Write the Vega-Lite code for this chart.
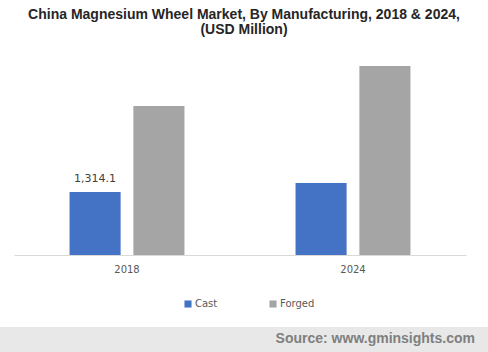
{
  "$schema": "https://vega.github.io/schema/vega-lite/v6.json",
  "autosize": {"type": "pad"},
  "padding": {"top": 8, "left": 0, "right": 0, "bottom": 0},
  "background": "white",
  "datasets": {
    "main": [
      {"year": "2018", "type": "Cast", "value": 1314.1, "label": "1,314.1"},
      {"year": "2018", "type": "Forged", "value": 3108, "label": null},
      {"year": "2024", "type": "Cast", "value": 1502, "label": null},
      {"year": "2024", "type": "Forged", "value": 3942, "label": null}
    ],
    "footer": [{"source": "Source: www.gminsights.com"}]
  },
  "center": true,
  "spacing": 18,
  "vconcat": [
    {
      "title": {
        "text": ["China Magnesium Wheel Market, By Manufacturing, 2018 & 2024,", "(USD Million)"],
        "anchor": "middle",
        "frame": "group",
        "font": "Liberation Sans",
        "fontSize": 14,
        "fontWeight": "bold",
        "color": "#262626",
        "lineHeight": 15,
        "baseline": "top",
        "offset": 18
      },
      "width": 460,
      "height": 200,
      "data": {"name": "main"},
      "encoding": {
        "x": {
          "field": "year", "type": "nominal",
          "scale": {"paddingInner": 0, "paddingOuter": 0, "range": [0, 452]},
          "axis": {
            "title": null, "labelAngle": 0, "ticks": false, "labelPadding": 9,
            "domainColor": "#d9d9d9", "labelFont": "DejaVu Sans", "labelFontSize": 10,
            "labelColor": "#595959", "grid": false
          }
        },
        "xOffset": {
          "field": "type", "type": "nominal",
          "scale": {"paddingInner": 0.2, "paddingOuter": 0.87}
        },
        "y": {
          "field": "value", "type": "quantitative",
          "scale": {"domain": [0, 4172], "nice": false},
          "axis": null
        }
      },
      "layer": [
        {
          "mark": {"type": "bar"},
          "encoding": {
            "color": {
              "field": "type", "type": "nominal",
              "scale": {"domain": ["Cast", "Forged"], "range": ["#4472c4", "#a5a5a5"]},
              "legend": {
                "title": null, "orient": "none", "legendX": 169, "legendY": 244,
                "direction": "horizontal",
                "symbolType": "square", "symbolSize": 50, "symbolStrokeWidth": 0,
                "labelFont": "DejaVu Sans", "labelFontSize": 10, "labelColor": "#595959",
                "labelOffset": 2, "columnPadding": 50
              }
            }
          }
        },
        {
          "transform": [{"filter": "datum.label != null"}],
          "mark": {"type": "text", "baseline": "bottom", "dy": -8, "font": "DejaVu Sans", "fontSize": 11, "color": "#404040"},
          "encoding": {"text": {"field": "label"}}
        }
      ]
    },
    {
      "width": 488,
      "height": 25,
      "view": {"fill": "#e8e8e8", "stroke": null},
      "data": {"name": "footer"},
      "mark": {"type": "text", "align": "right", "baseline": "middle", "dx": -13, "dy": -1, "font": "Liberation Sans", "fontSize": 14, "fontWeight": "bold", "color": "#7f7f7f"},
      "encoding": {
        "x": {"value": "width"},
        "text": {"field": "source"}
      }
    }
  ],
  "resolve": {"scale": {"color": "independent"}, "legend": {"color": "independent"}},
  "config": {"view": {"stroke": null}}
}
